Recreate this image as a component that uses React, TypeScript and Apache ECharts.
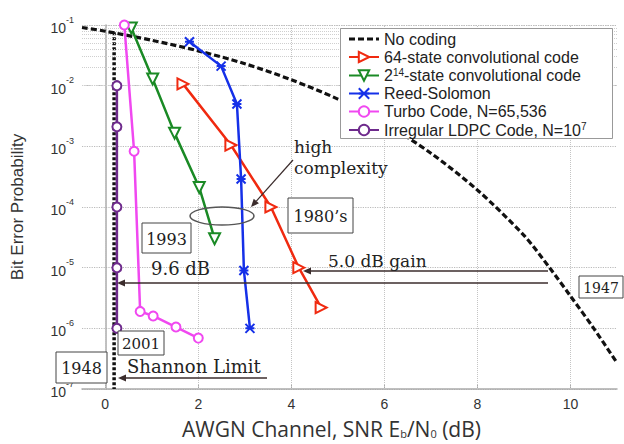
import React, { useEffect, useRef } from "react";
import * as echarts from "echarts";

// ---- data ----
const noCodingX = [-0.5, 0, 1, 2, 3, 4, 5, 6, 7, 8, 9, 9.55, 10, 10.5, 11];
const noCodingY = [0.091, 0.079, 0.056, 0.0375, 0.023, 0.0125, 0.006, 0.0024, 7.7e-4, 1.9e-4, 3.4e-5, 1.0e-5, 3.4e-6, 1.0e-6, 2.7e-7];

const conv64X = [1.67, 2.7, 3.56, 4.16, 4.64];
const conv64Y = [1.07e-2, 1.05e-3, 1.0e-4, 1.0e-5, 2.2e-6];

const conv214X = [0.56, 1.02, 1.49, 2.02, 2.35];
const conv214Y = [0.089, 0.0129, 1.65e-3, 2.1e-4, 3.0e-5];

const rsX = [1.81, 2.49, 2.83, 2.92, 2.98, 3.11];
const rsY = [0.053, 0.021, 5.0e-3, 2.9e-4, 9.0e-6, 1.0e-6];

const turboX = [0.41, 0.62, 0.75, 1.03, 1.52, 2.0];
const turboY = [0.1, 8.3e-4, 1.9e-6, 1.6e-6, 1.05e-6, 6.9e-7];

const ldpcX = [0.25, 0.25, 0.25, 0.25, 0.25];
const ldpcY = [1.0e-2, 2.1e-3, 1.0e-4, 1.0e-5, 1.0e-6];

const shannonX = [0.19, 0.19];
const shannonY = [0.076, 1e-7];

const xTicks = [0, 2, 4, 6, 8, 10];
const xGridVals = [0, 2, 4, 6, 8, 10];
const decades = [-7, -6, -5, -4, -3, -2];
const minorMult = [2, 3, 4, 5, 6, 7, 8, 9];

const seriesNames = [
  "No coding",
  "64-state convolutional code",
  "2^14-state convolutional code",
  "Reed-Solomon",
  "Turbo Code, N=65,536",
  "Irregular LDPC Code, N=10^7",
];
const legendLabels: Record<string, string> = {
  "No coding": "No coding",
  "64-state convolutional code": "64-state convolutional code",
  "2^14-state convolutional code": "2{sup|14}-state convolutional code",
  "Reed-Solomon": "Reed-Solomon",
  "Turbo Code, N=65,536": "Turbo Code, N=65,536",
  "Irregular LDPC Code, N=10^7": "Irregular LDPC Code, N=10{sup|7}",
};

const zip = (xs: number[], ys: number[]) => xs.map((x, i) => [x, ys[i]]);

const SERIF = "DejaVu Serif";
const ANN = "#3b2c2c";
const NOCODE_DASH = [6, 3];

function box(x: number, y: number, w: number, h: number, text: string, fs = 16) {
  return [
    { type: "rect", shape: { x, y, width: w, height: h }, style: { fill: "#fff", stroke: "#444", lineWidth: 1 }, z: 100 },
    {
      type: "text",
      x: x + w / 2,
      y: y + h / 2 + 1,
      style: { text, fontFamily: SERIF, fontSize: fs, fill: "#222", align: "center", verticalAlign: "middle" },
      z: 101,
    },
  ];
}

function arrow(x1: number, y1: number, x2: number, y2: number, w = 1.6) {
  const ang = Math.atan2(y2 - y1, x2 - x1);
  const L = 8, W = 3.5;
  const bx = x2 - L * Math.cos(ang), by = y2 - L * Math.sin(ang);
  const px = -Math.sin(ang) * W, py = Math.cos(ang) * W;
  return [
    { type: "line", shape: { x1, y1, x2: bx, y2: by }, style: { stroke: ANN, lineWidth: w }, z: 100 },
    {
      type: "polygon",
      shape: { points: [[x2, y2], [bx + px, by + py], [bx - px, by - py]] },
      style: { fill: ANN },
      z: 100,
    },
  ];
}

function label(x: number, y: number, text: string, fs = 17) {
  return {
    type: "text",
    x,
    y,
    style: { text, fontFamily: SERIF, fontSize: fs, fill: "#222", verticalAlign: "middle" },
    z: 101,
  };
}

export default function App() {
  const ref = useRef<HTMLDivElement>(null);
  useEffect(() => {
    document.body.style.margin = "0";
    const chart = echarts.init(ref.current!, undefined, { renderer: "svg" });
    const minorVals: number[] = [];
    decades.forEach((d) => minorMult.forEach((m) => minorVals.push(m * Math.pow(10, d))));

    const gridColor = "#cfcfcf";
    const option: any = {
      animation: false,
      backgroundColor: "#fff",
      grid: { left: 82, right: 7, top: 25, bottom: 49, containLabel: false },
      xAxis: {
        type: "value",
        min: -0.5,
        max: 11,
        axisLine: { lineStyle: { color: "#aaa", width: 1.5 } },
        axisTick: { show: true, customValues: xTicks, length: 4, inside: true, lineStyle: { color: "#aaa" } },
        axisLabel: {
          customValues: xTicks,
          fontFamily: "Liberation Sans",
          fontSize: 14,
          color: "#333",
          margin: 8,
        },
        splitLine: { show: false },
        name: "AWGN Channel, SNR E{sub|b}/N{sub|0} (dB)",
        nameLocation: "middle",
        nameGap: 29,
        nameTextStyle: {
          fontFamily: "Open Sans",
          fontSize: 21,
          color: "#333",
          padding: [0, 36, 0, 0],
          rich: { sub: { fontSize: 11, verticalAlign: "bottom", padding: [8, 0, 0, 0], fontFamily: "Open Sans", color: "#333" } },
        },
      },
      yAxis: {
        type: "log",
        logBase: 10,
        min: 1e-7,
        max: 1e-1,
        axisLine: { show: true, lineStyle: { color: "#aaa", width: 1.5 } },
        axisTick: { show: false },
        axisLabel: {
          margin: 8,
          formatter: (v: number) => `{b|10}{s|${Math.round(Math.log10(v))}}`,
          rich: {
            b: { fontFamily: "Liberation Sans", fontSize: 14, color: "#333", lineHeight: 20, verticalAlign: "bottom" },
            s: { fontFamily: "Liberation Sans", fontSize: 9, color: "#333", verticalAlign: "top", lineHeight: 20 },
          },
        },
        splitLine: { show: true, lineStyle: { color: "#bbb", type: "dotted", width: 1.2 } },
        name: "Bit Error Probability",
        nameLocation: "middle",
        nameGap: 56,
        nameTextStyle: { fontFamily: "Liberation Sans", fontSize: 17, color: "#333" },
      },
      legend: {
        data: [
          {
            name: seriesNames[0],
            icon: "path://M0,0h6v3h-6zM9,0h6v3h-6zM18,0h6v3h-6zM27,0h3v3h-3z",
            itemStyle: { color: "#111", borderWidth: 0 },
          },
          ...seriesNames.slice(1),
        ],
        left: 340,
        top: 28,
        orient: "vertical",
        itemWidth: 30,
        itemHeight: 13,
        itemGap: 2,
        padding: [3, 10, 3, 8],
        formatter: (n: string) => legendLabels[n] || n,
        textStyle: {
          fontFamily: "Liberation Sans",
          fontSize: 16,
          color: "#222",
          rich: { sup: { fontFamily: "Liberation Sans", fontSize: 10, color: "#222", verticalAlign: "top", padding: [0, 0, 7, 0] } },
        },
        z: 60,
      },
      series: [
        {
          name: "grid-minor",
          type: "line",
          data: [],
          silent: true,
          markLine: {
            silent: true,
            symbol: "none",
            label: { show: false },
            lineStyle: { color: gridColor, type: "dotted", width: 1 },
            data: [
              ...minorVals.map((v) => ({ yAxis: v })),
              ...xGridVals.map((v) => ({ xAxis: v, lineStyle: { color: "#c4c4c4", type: "dotted", width: 1 } })),
            ],
          },
        },
        {
          name: "No coding",
          type: "line",
          data: zip(noCodingX, noCodingY),
          symbol: "none",
          smooth: 0.3,
          itemStyle: { color: "#111" },
          lineStyle: { color: "#111", width: 3.2, type: NOCODE_DASH },
          z: 5,
        },
        {
          name: "shannon",
          type: "line",
          data: zip(shannonX, shannonY),
          symbol: "none",
          lineStyle: { color: "#111", width: 3.5, type: [3, 2] },
          z: 4,
        },
        {
          name: "64-state convolutional code",
          type: "line",
          data: zip(conv64X, conv64Y),
          symbol: "emptyTriangle",
          symbolRotate: -90,
          symbolSize: 11,
          itemStyle: { color: "#f02a10", borderWidth: 2 },
          lineStyle: { color: "#f02a10", width: 2.5 },
          z: 6,
        },
        {
          name: "2^14-state convolutional code",
          type: "line",
          data: zip(conv214X, conv214Y),
          symbol: "emptyTriangle",
          symbolRotate: 180,
          symbolSize: 11,
          itemStyle: { color: "#1a8a25", borderWidth: 2 },
          lineStyle: { color: "#1a8a25", width: 2.5 },
          z: 6,
        },
        {
          name: "Reed-Solomon",
          type: "line",
          data: zip(rsX, rsY),
          symbol: "path://M0,0L10,10M10,0L0,10M0,5L10,5",
          symbolSize: 9,
          itemStyle: { color: "#1530e8", borderColor: "#1530e8", borderWidth: 2 },
          lineStyle: { color: "#1530e8", width: 2.5 },
          z: 6,
        },
        {
          name: "Turbo Code, N=65,536",
          type: "line",
          data: zip(turboX, turboY),
          symbol: "emptyCircle",
          symbolSize: 9,
          clip: false,
          itemStyle: { color: "#f048f0", borderWidth: 2 },
          lineStyle: { color: "#f048f0", width: 2.5 },
          z: 6,
        },
        {
          name: "Irregular LDPC Code, N=10^7",
          type: "line",
          data: zip(ldpcX, ldpcY),
          symbol: "emptyCircle",
          symbolSize: 9,
          itemStyle: { color: "#6e2a8c", borderWidth: 2 },
          lineStyle: { color: "#6e2a8c", width: 2.5 },
          z: 7,
        },
      ],
      graphic: [
        { type: "rect", shape: { x: 340.5, y: 28.5, width: 272, height: 110 }, style: { fill: "#fff", stroke: "#999", lineWidth: 1 }, z: 50 },
        label(294, 147, "high"),
        label(294, 168, "complexity"),
        ...arrow(293, 160, 251, 207, 1.2),
        { type: "ellipse", shape: { cx: 222, cy: 216, rx: 32, ry: 9 }, style: { fill: "none", stroke: "#555", lineWidth: 1.5 }, z: 100 },
        ...box(142, 223, 49, 30, "1993"),
        ...box(288, 198, 65, 35, "1980\u2019s"),
        ...box(579, 276, 44, 22, "1947", 14),
        ...box(118, 331, 46, 24, "2001", 15),
        ...box(56, 352, 51, 31, "1948"),
        label(151, 268, "9.6 dB", 18),
        label(328, 261, "5.0 dB gain", 17),
        label(127, 366, "Shannon Limit", 18),
        ...arrow(548, 271, 303, 271),
        ...arrow(548, 283, 117, 283),
        ...arrow(267, 378, 118, 378, 1.3),
      ],
    };
    chart.setOption(option);
    return () => chart.dispose();
  }, []);
  return <div ref={ref} style={{ width: 624, height: 444 }} />;
}
